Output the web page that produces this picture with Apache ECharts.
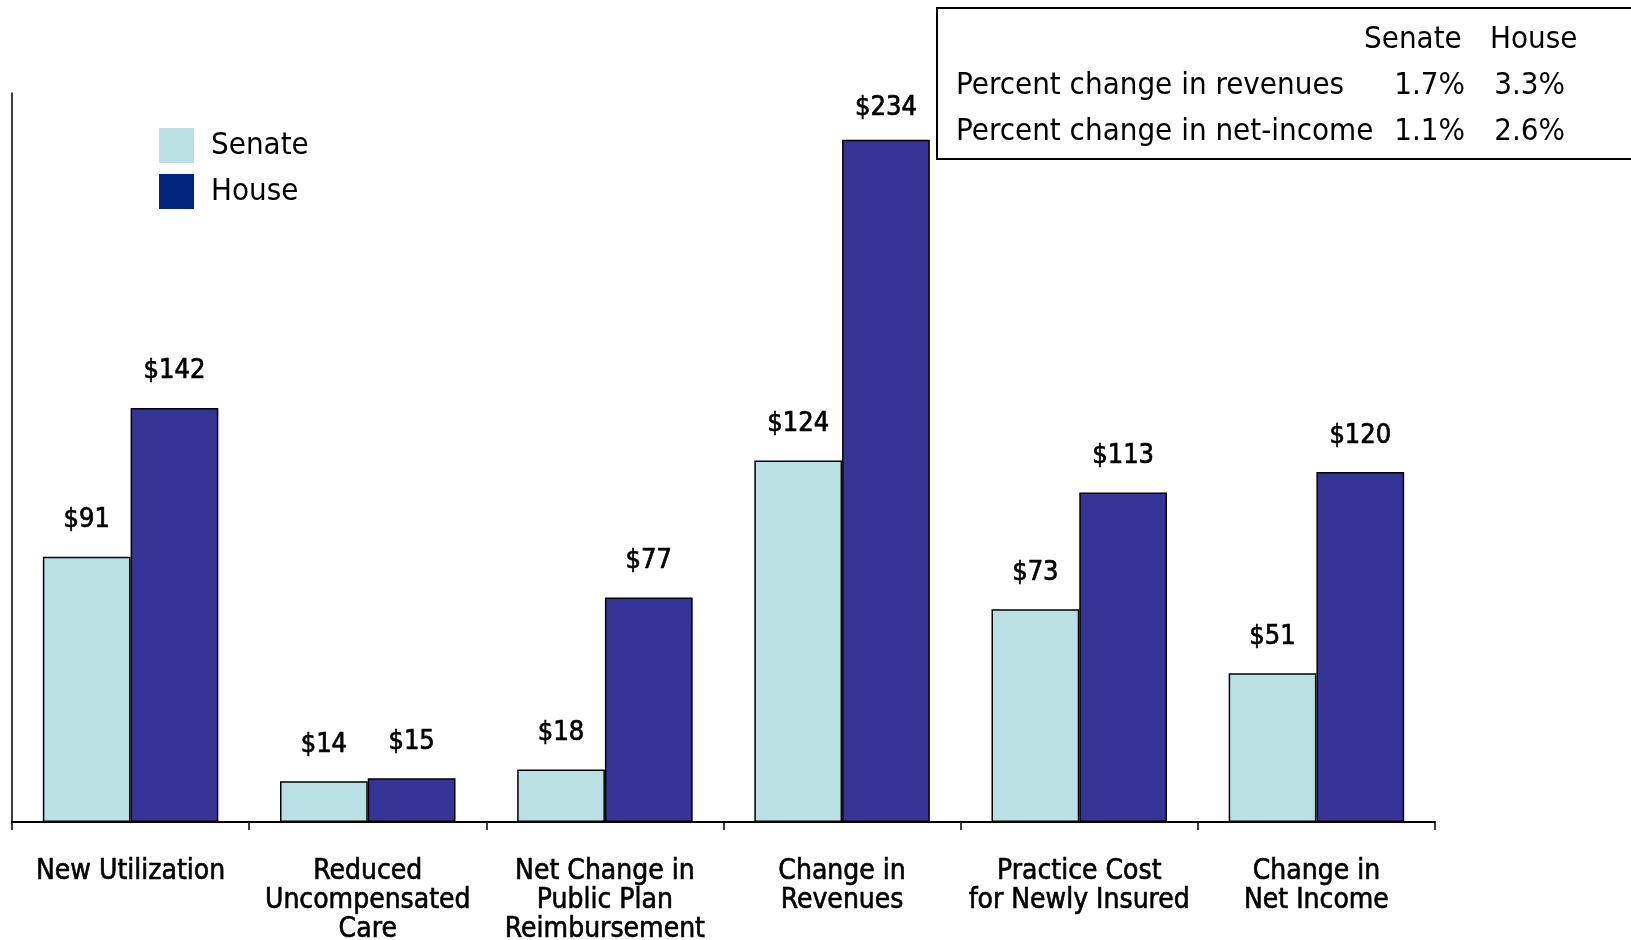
<!DOCTYPE html>
<html>
<head>
<meta charset="utf-8">
<script src="https://cdn.jsdelivr.net/npm/echarts@6/dist/echarts.min.js"></script>
<style>
  html, body { margin: 0; padding: 0; background: #fff; }
  #chart { width: 1631px; height: 940px; }
</style>
</head>
<body>
<div id="chart"></div>
<script>
  // chart data
  const categories = [
    'New Utilization',
    'Reduced\nUncompensated\nCare',
    'Net Change in\nPublic Plan\nReimbursement',
    'Change in\nRevenues',
    'Practice Cost\nfor Newly Insured',
    'Change in\nNet Income'
  ];
  const senateValues = [91, 14, 18, 124, 73, 51];
  const houseValues = [142, 15, 77, 234, 113, 120];

  // summary table in the top right corner
  const tableHeader = ['Senate', 'House'];
  const tableRows = ['Percent change in revenues', 'Percent change in net-income'];
  const senatePct = ['1.7%', '1.1%'];
  const housePct = ['3.3%', '2.6%'];

  const FONT = '"DejaVu Sans Condensed", "DejaVu Sans"';
  const SENATE = '#b9e0e3';
  const HOUSE = '#363497';

  const chart = echarts.init(document.getElementById('chart'));

  const rowY = [86, 132];
  const tFont = '31px ' + FONT;
  const txt = (s, x, y, align) => ({
    type: 'text', x: x, y: y,
    style: {text: s, font: tFont, fill: '#000', align: align, verticalAlign: 'middle'}
  });
  const tableText = [
    txt(tableHeader[0], 1364, 40, 'left'),
    txt(tableHeader[1], 1490, 40, 'left'),
    ...tableRows.map((t, i) => txt(t, 956, rowY[i], 'left')),
    ...senatePct.map((t, i) => txt(t, 1465, rowY[i], 'right')),
    ...housePct.map((t, i) => txt(t, 1565, rowY[i], 'right'))
  ];

  const label = {
    show: true,
    position: 'top',
    distance: 23,
    formatter: p => '$' + p.value,
    fontFamily: FONT,
    fontSize: 27,
    color: '#000',
    textBorderColor: '#000',
    textBorderWidth: 0.7
  };

  chart.setOption({
    animation: false,
    textStyle: {fontFamily: FONT},
    grid: {left: 12, right: 196, top: 93, bottom: 118, containLabel: false, outerBoundsMode: 'none'},
    legend: {
      orient: 'vertical',
      left: 159,
      top: 128,
      padding: 0,
      itemWidth: 35,
      itemHeight: 35,
      itemGap: 11,
      selectedMode: false,
      textStyle: {fontFamily: FONT, fontSize: 31, color: '#000', padding: [4, 0, 0, 12]},
      data: [
        {name: 'Senate', icon: 'rect', itemStyle: {color: '#bbe0e3', borderWidth: 0}},
        {name: 'House', icon: 'rect', itemStyle: {color: '#00247d', borderWidth: 0}}
      ]
    },
    xAxis: {
      type: 'category',
      data: categories,
      axisLine: {lineStyle: {color: '#000', width: 2}},
      axisTick: {show: true, length: 8, interval: 0, lineStyle: {color: '#000', width: 1.5}},
      axisLabel: {
        interval: 0,
        margin: 35,
        fontFamily: FONT,
        fontSize: 28,
        lineHeight: 29,
        color: '#000',
        textBorderColor: '#000',
        textBorderWidth: 0.6,
        align: 'center',
        verticalAlign: 'top'
      }
    },
    yAxis: {
      type: 'value',
      min: 0,
      max: 250,
      interval: 50,
      axisLine: {show: true, lineStyle: {color: '#000', width: 1.5}},
      axisTick: {show: false},
      axisLabel: {show: false},
      splitLine: {show: false}
    },
    series: [
      {
        name: 'Senate',
        type: 'bar',
        data: senateValues,
        barGap: '0%',
        barCategoryGap: '26%',
        itemStyle: {color: SENATE, borderColor: '#000', borderWidth: 1.5},
        label: label
      },
      {
        name: 'House',
        type: 'bar',
        // tallest bar keeps its label a little closer, as in the original
        data: houseValues.map(v => v === Math.max(...houseValues) ? {value: v, label: {distance: 18}} : v),
        barGap: '0%',
        barCategoryGap: '26%',
        itemStyle: {color: HOUSE, borderColor: '#000', borderWidth: 1.5},
        label: label
      }
    ],
    graphic: [
      {
        type: 'rect',
        shape: {x: 937, y: 8, width: 720, height: 151},
        style: {fill: 'none', stroke: '#000', lineWidth: 2}
      },
      ...tableText
    ]
  });
</script>
</body>
</html>
